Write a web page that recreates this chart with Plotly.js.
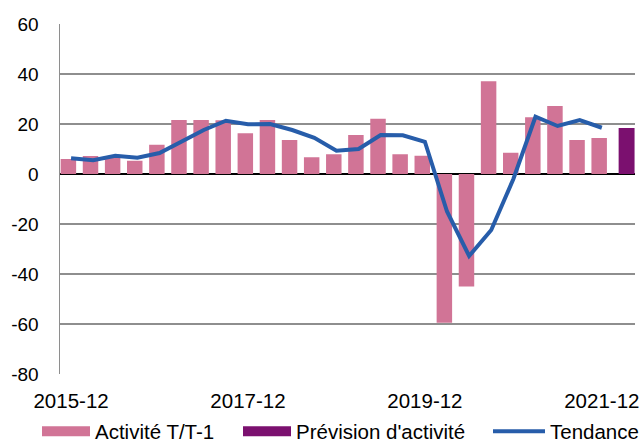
<!DOCTYPE html>
<html>
<head>
<meta charset="utf-8">
<script src="https://cdn.plot.ly/plotly-3.0.1.min.js"></script>
<style>html,body{margin:0;padding:0;background:#fff;}#chart{width:644px;height:443px;}</style>
</head>
<body>
<div id="chart"></div>
<script>
var quarters = ['2015-12','2016-03','2016-06','2016-09','2016-12','2017-03','2017-06','2017-09','2017-12',
  '2018-03','2018-06','2018-09','2018-12','2019-03','2019-06','2019-09','2019-12',
  '2020-03','2020-06','2020-09','2020-12','2021-03','2021-06','2021-09','2021-12','2022-03'];
var activityQuarters = quarters.slice(0, 25);
var activite = [6, 7.2, 6.5, 5.3, 11.7, 21.6, 21.6, 21.5, 16.3, 21.6, 13.6, 6.7, 7.9,
  15.6, 22.1, 7.9, 7.3, -59.5, -45, 37.1, 8.5, 22.7, 27.2, 13.6, 14.4];
var previsionQuarters = ['2022-03'];
var prevision = [18.4];
var tendance = [6.3, 5.5, 7.3, 6.5, 8.4, 12.9, 17.6, 21.3, 19.9, 20, 17.6, 14.5, 9.3,
  10, 15.6, 15.5, 12.9, -15, -32.8, -22.4, -2, 22.9, 19.2, 21.6, 18.5];
var tickLabels = ['2015-12','2017-12','2019-12','2021-12'];
var yTickVals = [-80, -60, -40, -20, 0, 20, 40, 60];
var yTickText = ['-80', '-60', '-40', '-20', '0', '20', '40', '60'];

var pink = '#D17496', purple = '#7B106F', blue = '#275DAA';
var fam = 'Liberation Sans, Arial, sans-serif';
var yfont = {family: fam, size: 19, color: '#000'};
var xfont = {family: fam, size: 20.5, color: '#000'};

var traces = [
  {type: 'bar', x: activityQuarters, y: activite, marker: {color: pink}, width: 0.7, offset: -0.47,
   showlegend: false, hoverinfo: 'skip'},
  {type: 'bar', x: previsionQuarters, y: prevision, marker: {color: purple}, width: 0.72, offset: -0.24,
   showlegend: false, hoverinfo: 'skip'},
  {type: 'scatter', mode: 'lines', x: activityQuarters, y: tendance, line: {color: blue, width: 4},
   showlegend: false, hoverinfo: 'skip'},
  {type: 'scatter', mode: 'lines', x: [null], y: [null], name: 'Activité T/T-1', line: {color: pink, width: 12},
   legend: 'legend'},
  {type: 'scatter', mode: 'lines', x: [null], y: [null], name: "Prévision d'activité", line: {color: purple, width: 12},
   legend: 'legend2'},
  {type: 'scatter', mode: 'lines', x: [null], y: [null], name: 'Tendance', line: {color: blue, width: 4},
   legend: 'legend3'}
];

function leg(px, w) {
  return {orientation: 'h', xref: 'container', yref: 'container', x: px / 644, xanchor: 'left',
          y: 0.026, yanchor: 'middle', font: xfont, itemwidth: w, bgcolor: 'rgba(0,0,0,0)'};
}

var layout = {
  width: 644, height: 443,
  margin: {l: 60, r: 9, t: 24, b: 69, autoexpand: false},
  paper_bgcolor: '#fff', plot_bgcolor: '#fff',
  font: xfont,
  barmode: 'overlay',
  showlegend: true,
  legend: leg(37, 48),
  legend2: leg(238, 48),
  legend3: leg(488, 52),
  xaxis: {type: 'category', categoryorder: 'array', categoryarray: quarters,
          range: [-0.5, 25.5], tickmode: 'array', tickvals: tickLabels, ticktext: tickLabels,
          showgrid: false, zeroline: false, showline: false,
          ticks: 'outside', ticklen: 8, tickcolor: 'rgba(0,0,0,0)', tickfont: xfont, fixedrange: true},
  yaxis: {range: [-80, 60], tickmode: 'array', tickvals: yTickVals, ticktext: yTickText,
          showgrid: true, gridcolor: '#8E8E8E', gridwidth: 1.5,
          zeroline: true, zerolinecolor: '#000', zerolinewidth: 1.5,
          showline: true, linecolor: '#8E8E8E', linewidth: 1.5,
          ticks: 'outside', ticklen: 16, tickcolor: 'rgba(0,0,0,0)', tickfont: yfont, fixedrange: true}
};

Plotly.newPlot('chart', traces, layout, {displayModeBar: false, staticPlot: true});
</script>
</body>
</html>
